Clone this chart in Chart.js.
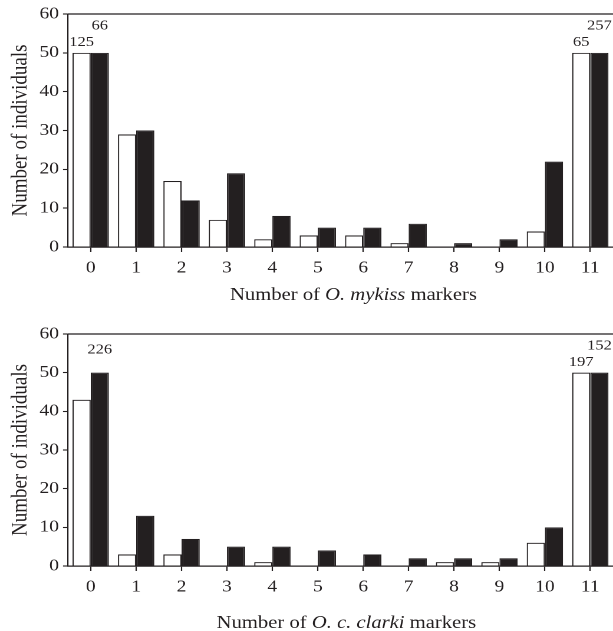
<!DOCTYPE html>
<html>
<head>
<meta charset="utf-8">
<script src="https://cdn.jsdelivr.net/npm/chart.js@4/dist/chart.umd.min.js"></script>
<style>
  html, body { margin: 0; padding: 0; background: #fff; }
  #fig { position: relative; width: 613px; height: 631px; overflow: hidden; background: #fff; }
  canvas { position: absolute; left: 0; }
</style>
</head>
<body>
<div id="fig">
  <canvas id="cTop" width="520" height="310" style="top:0;width:613px;height:310px"></canvas>
  <canvas id="cBot" width="520" height="321" style="top:310px;width:613px;height:321px"></canvas>
</div>
<script>
// Number of diagnostic markers carried by each individual
const markerCounts = ['0', '1', '2', '3', '4', '5', '6', '7', '8', '9', '10', '11'];

// O. mykiss markers: open and filled bars
const mykissOpen   = [125, 29, 17, 7, 2, 3, 3, 1, 0, 0, 4, 65];
const mykissFilled = [66, 30, 12, 19, 8, 5, 5, 6, 1, 2, 22, 257];

// O. c. clarki markers: open and filled bars
const clarkiOpen   = [43, 3, 3, 0, 1, 0, 0, 0, 1, 1, 6, 197];
const clarkiFilled = [226, 13, 7, 5, 5, 4, 3, 2, 2, 2, 10, 152];

// y-axis ticks
const countTicks = [0, 10, 20, 30, 40, 50, 60];

// axis titles (text, italic)
const yTitle = 'Number of individuals';
const mykissTitle = [['Number of ', false], ['O. mykiss', true], [' markers', false]];
const clarkiTitle = [['Number of ', false], ['O. c. clarki', true], [' markers', false]];

// bars taller than this are cut off and the full count is written above them
const BREAK = 50;

const INK = '#231f20';
const FAMILY = "'Liberation Serif', 'Times New Roman', Times, serif";
const STRETCH = 613 / 520;          // canvas is drawn 520 wide and shown 613 wide
const TICK_SIZE = 16.5;
const TITLE_SIZE = 17.5;
const YTITLE_SIZE = 19;
const COUNT_SIZE = 14;

Chart.defaults.font.family = FAMILY;
Chart.defaults.color = INK;

// Top frame line and the counts above the cut bars
const framePlugin = {
  id: 'frame',
  afterDatasetsDraw(chart) {
    const a = chart.chartArea;
    const ctx = chart.ctx;
    ctx.save();
    ctx.strokeStyle = INK;
    ctx.lineWidth = 1.2;
    ctx.beginPath();
    ctx.moveTo(a.left, a.top);
    ctx.lineTo(a.right, a.top);
    ctx.stroke();

    ctx.font = `${COUNT_SIZE}px ${FAMILY}`;
    ctx.fillStyle = INK;
    ctx.textAlign = 'center';
    ctx.textBaseline = 'middle';
    const sets = chart.data.datasets;
    sets.forEach((ds, di) => {
      const meta = chart.getDatasetMeta(di);
      ds.counts.forEach((c, i) => {
        if (c <= BREAK) return;
        const bar = meta.data[i];
        let lift = 10.5;
        if (di === 1) lift = sets[0].counts[i] > BREAK ? 27 : 23;
        ctx.fillText(String(c), bar.x, bar.y - lift);
      });
    });
    ctx.restore();
  }
};

// x-axis title with an italic taxon name
const xTitlePlugin = {
  id: 'xTitle',
  afterDraw(chart, args, opts) {
    const ctx = chart.ctx;
    const a = chart.chartArea;
    ctx.save();
    const fonts = opts.parts.map(p => `${p[1] ? 'italic ' : ''}${TITLE_SIZE}px ${FAMILY}`);
    let total = 0;
    const widths = opts.parts.map((p, i) => {
      ctx.font = fonts[i];
      const w = ctx.measureText(p[0]).width;
      total += w;
      return w;
    });
    let x = (a.left + a.right) / 2 + opts.shift - total / 2;
    const y = a.bottom + opts.drop;
    ctx.fillStyle = INK;
    ctx.textAlign = 'left';
    ctx.textBaseline = 'alphabetic';
    opts.parts.forEach((p, i) => {
      ctx.font = fonts[i];
      ctx.fillText(p[0], x, y);
      x += widths[i];
    });
    ctx.restore();
  }
};

function makeChart(id, open, filled, titleParts, g) {
  return new Chart(document.getElementById(id), {
    type: 'bar',
    data: {
      labels: markerCounts,
      datasets: [
        {
          data: open.map(v => Math.min(v, BREAK)),
          counts: open,
          backgroundColor: '#ffffff',
          borderColor: INK,
          borderWidth: 1.1,
          borderSkipped: 'start'
        },
        {
          data: filled.map(v => Math.min(v, BREAK)),
          counts: filled,
          backgroundColor: INK,
          borderColor: INK,
          borderWidth: 1.1,
          borderSkipped: 'start'
        }
      ]
    },
    options: {
      responsive: false,
      animation: false,
      events: [],
      devicePixelRatio: 2,
      layout: { padding: { top: g.top, left: 0, right: 0, bottom: 0 } },
      datasets: { bar: { categoryPercentage: 0.8, barPercentage: 1.0 } },
      plugins: {
        legend: { display: false },
        tooltip: { enabled: false },
        xTitle: { parts: titleParts, shift: g.shift, drop: g.drop }
      },
      scales: {
        x: {
          offset: true,
          grid: {
            offset: false,
            drawOnChartArea: false,
            drawTicks: true,
            tickLength: 5,
            tickWidth: 1.1,
            tickColor: INK
          },
          border: { display: true, color: INK, width: 1.2 },
          ticks: {
            color: INK,
            padding: 6.5,
            maxRotation: 0,
            autoSkip: false,
            font: { size: TICK_SIZE }
          },
          afterFit(s) { s.height = g.xAxisH; }
        },
        y: {
          min: 0,
          max: 60,
          grid: {
            drawOnChartArea: false,
            drawTicks: true,
            tickLength: 5 / STRETCH,
            tickWidth: 1.1,
            tickColor: INK
          },
          border: { display: true, color: INK, width: 1.1 },
          ticks: {
            color: INK,
            padding: 3.5,
            font: { size: TICK_SIZE }
          },
          afterBuildTicks(s) { s.ticks = countTicks.map(v => ({ value: v })); },
          title: {
            display: true,
            text: yTitle,
            color: INK,
            font: { size: YTITLE_SIZE },
            padding: { top: 6, bottom: 0 }
          },
          afterFit(s) { s.width = 68 / STRETCH; }
        }
      }
    },
    plugins: [framePlugin, xTitlePlugin]
  });
}

makeChart('cTop', mykissOpen, mykissFilled, mykissTitle, { top: 14, xAxisH: 63, shift: 11, drop: 53 });
makeChart('cBot', clarkiOpen, clarkiFilled, clarkiTitle, { top: 24, xAxisH: 65, shift: 5, drop: 62 });
</script>
</body>
</html>
